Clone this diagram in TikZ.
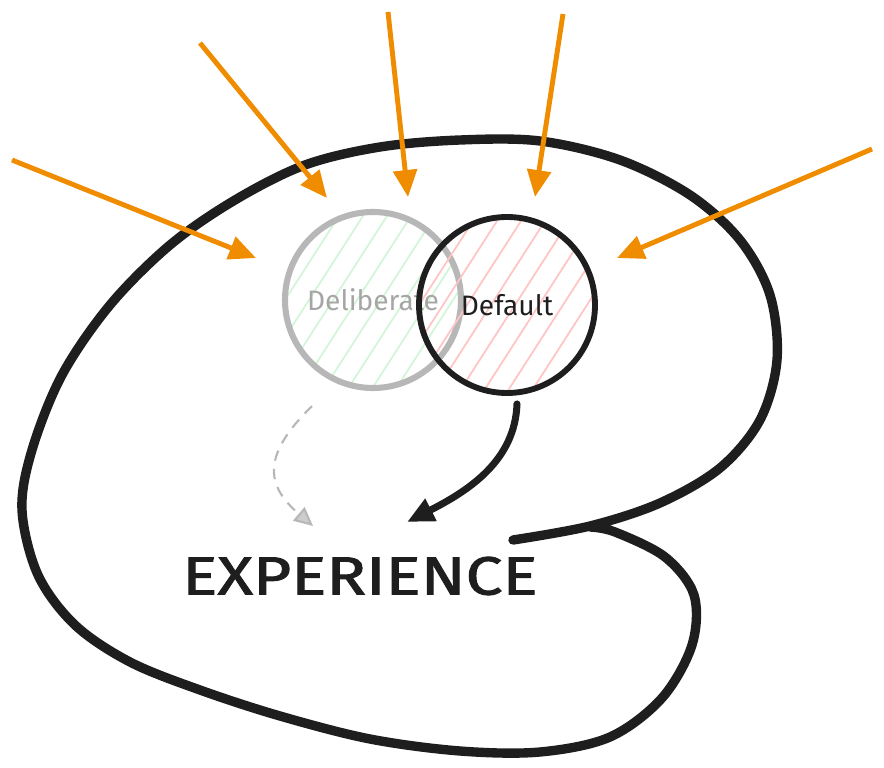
\documentclass[tikz,border=0pt]{standalone}
\usepackage{fontspec}
\setmainfont{Fira Sans}
\newfontfamily\expfont{Fira Sans}[FakeBold=1.6]
\usetikzlibrary{arrows.meta}
\definecolor{ink}{HTML}{1E1E1E}
\definecolor{rayorange}{HTML}{F08C00}
\definecolor{softgray}{HTML}{B7B7B7}
\definecolor{delibtext}{HTML}{A6A6A6}
\definecolor{greenhatch}{HTML}{D3F5D7}
\definecolor{redhatch}{HTML}{FFC4C4}
\newcommand\hatch[1]{\foreach \k in {-250,-226,...,40}
    \draw[#1, line width=1.5pt] ([shift={(\k,140)}]path picture bounding box.center) -- ++(180,-280);}

\begin{document}
\begin{tikzpicture}[x=0.03cm, y=-0.03cm,
    ray/.style={draw=rayorange, line width=4.2pt, -{Triangle[length=23pt,width=20pt]}},
    blob/.style={draw=ink, line width=8pt, line cap=round, line join=round},
    circ/.style={circle, minimum size=5.28cm, inner sep=0pt, font=\fontsize{24}{26}\selectfont},
    delibcirc/.style={circ, draw=softgray, line width=5.2pt, text=delibtext, path picture={\hatch{greenhatch}}},
    defaultcirc/.style={circ, draw=ink, line width=5pt, text=ink, path picture={\hatch{redhatch}}},
    flow/.style={draw=ink, line width=6pt, line cap=round, -{Triangle[length=23pt,width=20pt]}},
    ghost/.style={draw=softgray, line width=1.8pt, dash pattern=on 9pt off 7pt,
        -{Triangle[length=16pt,width=15pt,fill=softgray!70]}}]
    \useasboundingbox (0,0) rectangle (884,768);

    \draw[blob] plot[smooth, tension=0.55] coordinates {(513,540) (590,526) (660,503) (720,468)
        (760,420) (777,360) (770,295) (740,240) (690,195) (620,160) (540,141) (460,140) (380,147)
        (305,165) (235,200) (170,245) (110,305) (62,375) (32,450) (22,510) (38,575) (75,625)
        (130,662) (200,690) (280,716) (370,739) (460,751) (540,752) (610,737) (662,698) (692,645)
        (694,595) (665,557) (615,532) (590,527)};

    \foreach \i/\sx/\sy/\tx/\ty in {1/12/160/256/258, 2/200/43/327/198, 3/388/12/408/197,
        4/563/14/535/197, 5/872/149/617/258} {
        \coordinate (src\i) at (\sx,\sy);
        \coordinate (tip\i) at (\tx,\ty);
        \draw[ray] (src\i) -- (tip\i);
    }

    \node[delibcirc] (delib) at (373,300) {Deliberate};
    \node[defaultcirc] (default) at (507,305) {Default};
    \node[text=ink, inner sep=0pt, font=\fontsize{46}{50}\expfont] (exp) at (360,576)
        {\scalebox{1.22}[1]{EXPERIENCE}};

    \draw[flow] ([shift={(10,8)}]default.south) .. controls (515,460) and (470,490)
        .. ([shift={(47,-54)}]exp.center);
    \draw[ghost] ([shift={(-61,15)}]delib.south) .. controls (262,455) and (265,485)
        .. ([shift={(-47,-50)}]exp.center);
\end{tikzpicture}
\end{document}
